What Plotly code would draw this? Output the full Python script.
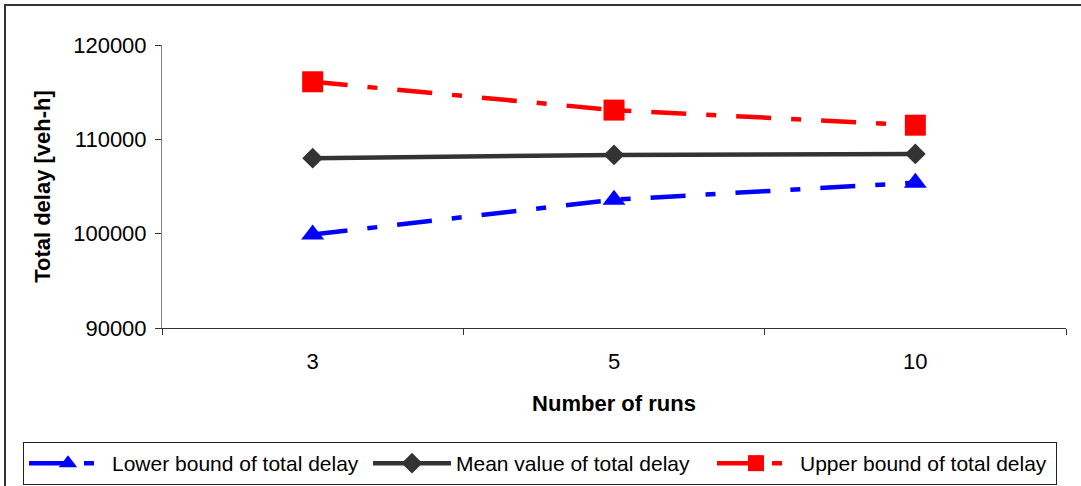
import plotly.graph_objects as go

# Number of simulation runs (category axis)
runs = ["3", "5", "10"]

# Total delay estimates [veh-h]
lower_bound = [99900, 103600, 105400]
mean_value = [108000, 108350, 108450]
upper_bound = [116100, 113100, 111500]

y_ticks = [90000, 100000, 110000, 120000]

FONT = "Liberation Sans, Arial, sans-serif"
FS = 22
DASHDOT = "35px,20px,10px,20px"

W, H = 1081, 486
L, R, T, B = 162, 15, 45, 158
pw, ph = W - L - R, H - T - B


def px_x(p):
    return (p - L) / pw


def px_y(p):
    return (H - B - p) / ph


fig = go.Figure()

fig.add_trace(go.Scatter(
    x=runs, y=lower_bound, name="Lower bound of total delay",
    mode="lines+markers",
    line=dict(color="#0000FF", width=4.5, dash=DASHDOT),
    marker=dict(symbol="triangle-up", size=20, color="#0000FF"),
))
fig.add_trace(go.Scatter(
    x=runs, y=mean_value, name="Mean value of total delay",
    mode="lines+markers",
    line=dict(color="#333333", width=4.5),
    marker=dict(symbol="diamond", size=16, color="#333333"),
))
fig.add_trace(go.Scatter(
    x=runs, y=upper_bound, name="Upper bound of total delay",
    mode="lines+markers",
    line=dict(color="#FF0000", width=4.5, dash=DASHDOT),
    marker=dict(symbol="square", size=21, color="#FF0000"),
))

fig.update_layout(
    width=W, height=H,
    margin=dict(l=L, r=R, t=T, b=B, autoexpand=False),
    paper_bgcolor="white", plot_bgcolor="white",
    font=dict(family=FONT, size=FS, color="black"),
    showlegend=True,
    legend=dict(
        orientation="h",
        x=px_x(23), xanchor="left",
        y=px_y(442), yanchor="top",
        bordercolor="#222222", borderwidth=1,
        bgcolor="white",
        font=dict(family=FONT, size=21, color="black"),
        entrywidth=251,
        itemwidth=78,
        tracegroupgap=0,
    ),
    xaxis=dict(
        type="category",
        range=[-0.5, 2.5],
        showgrid=False,
        showline=True, linecolor="#333333", linewidth=1,
        ticks="outside", ticklen=6, tickcolor="#333333",
        tickson="boundaries",
        ticklabelstandoff=14,
        title=dict(text="<b>Number of runs</b>", standoff=22,
                   font=dict(family=FONT, size=FS)),
    ),
    yaxis=dict(
        range=[90000, 120000],
        tickvals=y_ticks,
        ticktext=[str(v) for v in y_ticks],
        showgrid=False, zeroline=False,
        showline=True, linecolor="#808080", linewidth=1,
        ticks="outside", ticklen=6, tickcolor="#333333",
        ticklabelstandoff=4,
        title=dict(text="<b>Total delay [veh-h]</b>", standoff=16,
                   font=dict(family=FONT, size=FS)),
    ),
    shapes=[dict(
        type="rect", xref="paper", yref="paper",
        x0=px_x(5), x1=px_x(W + 20),
        y0=px_y(H + 20), y1=px_y(5),
        line=dict(color="#333333", width=2),
        fillcolor="rgba(0,0,0,0)", layer="below",
    )],
)

fig.write_html("out.html")
